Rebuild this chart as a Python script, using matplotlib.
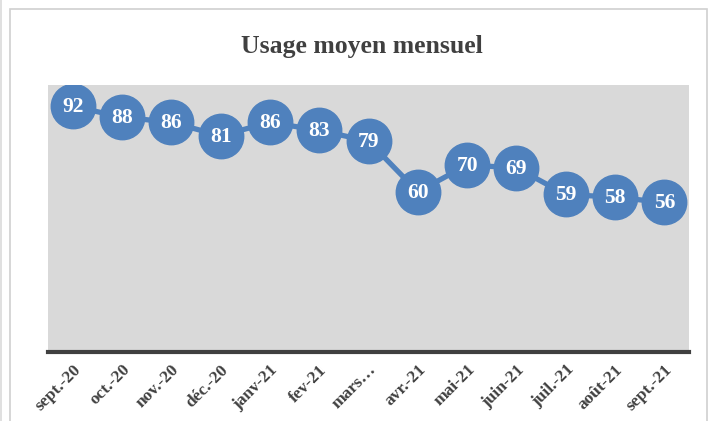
import matplotlib.pyplot as plt
from matplotlib.patches import Rectangle
import numpy as np

months = ['sept.-20', 'oct.-20', 'nov.-20', 'déc.-20', 'janv-21', 'fev-21',
          'mars…', 'avr.-21', 'mai-21', 'juin-21', 'juil.-21', 'août-21',
          'sept.-21']
usage = [92, 88, 86, 81, 86, 83, 79, 60, 70, 69, 59, 58, 56]

blue = '#4F81BD'
dark = '#404040'

plt.rcParams['font.family'] = ['Liberation Serif', 'DejaVu Serif']

fig = plt.figure(figsize=(7.12, 4.21), dpi=100)

# outer chart frame like the Excel export
fig.patches.append(Rectangle((10 / 712, -0.05), 697 / 712, 1.05 - 9 / 421,
                             transform=fig.transFigure, fill=False,
                             edgecolor='#D0D0D0', linewidth=1.2))
fig.patches.append(Rectangle((0, -0.05), 2 / 712, 1.1,
                             transform=fig.transFigure, fill=True,
                             facecolor='#E0E0E0', edgecolor='none'))

ax = fig.add_axes([48 / 712, 69 / 421, 641 / 712, 267 / 421])
ax.set_facecolor('#D9D9D9')

x = np.arange(len(months))
ax.plot(x, usage, color=blue, linewidth=3.8, marker='o', markersize=32,
        markerfacecolor=blue, markeredgecolor=blue, zorder=3)
for xi, v in zip(x, usage):
    ax.text(xi, v - 0.3, str(v), ha='center', va='center', color='white',
            fontsize=15.5, fontweight='bold', zorder=4)

ax.set_xlim(-0.5, len(months) - 0.5)
ax.set_ylim(0, 100)
ax.set_yticks([])
ax.set_xticks(x)
ax.set_xticklabels(months, rotation=45, ha='right', rotation_mode='anchor',
                   fontsize=12.5, fontweight='bold', color=dark)
ax.tick_params(axis='x', length=0, pad=7)
for side in ['top', 'right', 'left']:
    ax.spines[side].set_visible(False)
ax.spines['bottom'].set_color(dark)
ax.spines['bottom'].set_linewidth(3)

fig.text(362 / 712, 1 - 46 / 421, 'Usage moyen mensuel', ha='center',
         va='center', fontsize=18.5, fontweight='bold', color=dark)

fig.savefig('out.png', dpi=100)
